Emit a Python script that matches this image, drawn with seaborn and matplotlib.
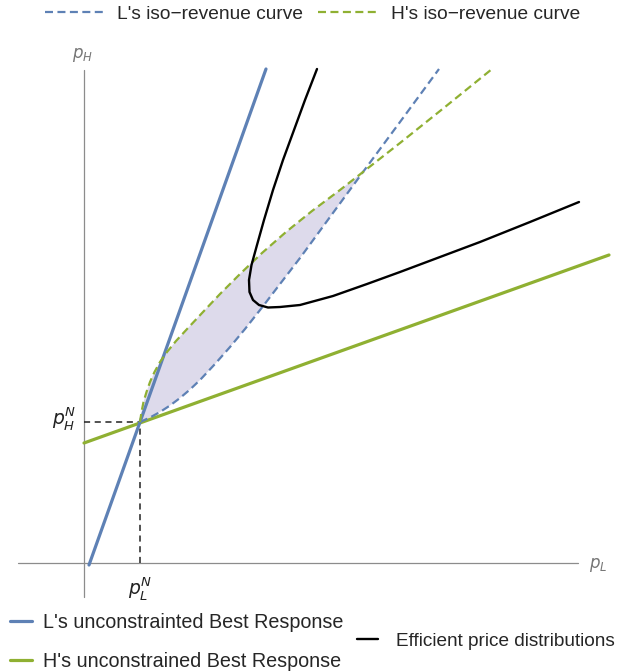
import matplotlib
matplotlib.use("Agg")
import matplotlib.pyplot as plt
import seaborn as sns
import pandas as pd
from matplotlib.lines import Line2D

# ---------------- data (origin at the axes crossing) ----
nash_pL, nash_pH = 0.56, 1.41

brL_pL = [0.05, 1.82]            # L's unconstrained best response
brL_pH = [-0.02, 4.94]

brH_pL = [0.00, 5.25]            # H's unconstrained best response
brH_pH = [1.20, 3.08]

isoL_pL = [0.56, 0.66, 0.76, 0.86, 0.96, 1.06, 1.16, 1.31, 1.46, 1.61, 1.78, 1.96,
           2.16, 2.46, 2.79, 3.16, 3.55]
isoL_pH = [1.41, 1.455, 1.51, 1.575, 1.65, 1.735, 1.83, 1.99, 2.16, 2.34, 2.555, 2.79,
           3.05, 3.46, 3.91, 4.41, 4.94]

isoH_pL = [0.56, 0.575, 0.595, 0.625, 0.66, 0.705, 0.76, 0.83, 0.92, 1.04, 1.19, 1.36,
           1.56, 1.78, 2.02, 2.28, 2.56, 2.79, 3.16, 3.61, 4.08]
isoH_pH = [1.41, 1.51, 1.61, 1.71, 1.81, 1.91, 2.01, 2.11, 2.22, 2.35, 2.51, 2.69,
           2.89, 3.10, 3.31, 3.52, 3.73, 3.91, 4.20, 4.56, 4.94]

eff_pL = [2.33, 2.21, 2.10, 1.99, 1.89, 1.80, 1.73, 1.675, 1.65, 1.655, 1.69, 1.75,
          1.84, 1.96, 2.16, 2.49, 2.83, 3.16, 3.56, 3.96, 4.46, 4.95]
eff_pH = [4.94, 4.63, 4.33, 4.03, 3.73, 3.43, 3.18, 2.98, 2.83, 2.71, 2.63, 2.58,
          2.555, 2.56, 2.58, 2.67, 2.79, 2.91, 3.06, 3.21, 3.41, 3.61]

n_cross_H = 18   # H iso points up to the crossing of the two iso curves
n_cross_L = 15   # L iso points up to the crossing

legend_top = ["L's iso\u2212revenue curve", "H's iso\u2212revenue curve"]
legend_bottom = ["L's unconstrainted Best Response", "H's unconstrained Best Response"]
legend_eff = ["Efficient price distributions"]

# ---------------- style ---------------------------------------------------
sns.set_style("white")
plt.rcParams['font.family'] = ['Liberation Sans', 'DejaVu Sans']
plt.rcParams['mathtext.fontset'] = 'dejavusans'

BLUE = "#5E81B5"
GREEN = "#8FB032"
FILL = "#DDDAEB"
AX = "#8C8C8C"
DASH = (0, (3.6, 2.0))

fig = plt.figure(figsize=(6.18, 6.72), dpi=100)
ax = fig.add_axes([0, 0, 1, 1])

# axes lines
ax.plot([-0.66, 4.94], [0, 0], color=AX, lw=0.9, zorder=1)
ax.plot([0, 0], [-0.34, 4.93], color=AX, lw=0.9, zorder=1)

# shaded region between iso-revenue curves
poly_x = isoH_pL[:n_cross_H] + isoL_pL[:n_cross_L][::-1]
poly_y = isoH_pH[:n_cross_H] + isoL_pH[:n_cross_L][::-1]
ax.fill(poly_x, poly_y, color=FILL, lw=0, zorder=2)

# nash guides
ax.plot([0, nash_pL], [nash_pH, nash_pH], color="#222222", lw=1.1, ls=(0, (4, 3)), zorder=3)
ax.plot([nash_pL, nash_pL], [0, nash_pH], color="#222222", lw=1.1, ls=(0, (4, 3)), zorder=3)

df = lambda x, y: pd.DataFrame({"pL": x, "pH": y})
sns.lineplot(data=df(brH_pL, brH_pH), x="pL", y="pH", color=GREEN, lw=2.3,
             sort=False, estimator=None, ax=ax, zorder=4)
sns.lineplot(data=df(brL_pL, brL_pH), x="pL", y="pH", color=BLUE, lw=2.3,
             sort=False, estimator=None, ax=ax, zorder=4)
sns.lineplot(data=df(isoL_pL, isoL_pH), x="pL", y="pH", color=BLUE, lw=1.6,
             linestyle=DASH, sort=False, estimator=None, ax=ax, zorder=5)
sns.lineplot(data=df(isoH_pL, isoH_pH), x="pL", y="pH", color=GREEN, lw=1.6,
             linestyle=DASH, sort=False, estimator=None, ax=ax, zorder=5)
sns.lineplot(data=df(eff_pL, eff_pH), x="pL", y="pH", color="black", lw=1.7,
             sort=False, estimator=None, ax=ax, zorder=6)
ax.set_xlim(-0.84, 5.34)
ax.set_ylim(-1.09, 5.63)
ax.axis('off')

# labels
ax.text(-0.08, nash_pH + 0.04, r"$p_H^N$", ha='right', va='center', fontsize=13.5, color="#222222")
ax.text(nash_pL, -0.25, r"$p_L^N$", ha='center', va='center', fontsize=13.5, color="#222222")
ax.text(-0.01, 5.08, r"$p_H$", ha='center', va='center', fontsize=12, color="#777777")
ax.text(5.14, -0.02, r"$p_L$", ha='center', va='center', fontsize=12, color="#777777")

h_top = [Line2D([], [], color=BLUE, lw=1.6, ls=DASH),
         Line2D([], [], color=GREEN, lw=1.6, ls=DASH)]
fig.legend(h_top, legend_top, loc='center left', bbox_to_anchor=(45 / 618, 1 - 14 / 672),
           ncol=2, frameon=False, fontsize=13.8, handlelength=3.1, handletextpad=0.68,
           columnspacing=0.78, borderpad=0, borderaxespad=0)
h_bot = [Line2D([], [], color=BLUE, lw=2.3), Line2D([], [], color=GREEN, lw=2.3)]
fig.legend(h_bot, legend_bottom, loc='center left', bbox_to_anchor=(10 / 618, 1 - 642 / 672),
           ncol=1, frameon=False, fontsize=14.2, handlelength=1.1, handletextpad=0.55,
           labelspacing=1.0, borderpad=0, borderaxespad=0)
h_eff = [Line2D([], [], color='black', lw=1.7)]
fig.legend(h_eff, legend_eff, loc='center left', bbox_to_anchor=(357 / 618, 1 - 641 / 672),
           frameon=False, fontsize=13.7, handlelength=1.1, handletextpad=0.95,
           borderpad=0, borderaxespad=0)

fig.savefig("out.png", dpi=100)
